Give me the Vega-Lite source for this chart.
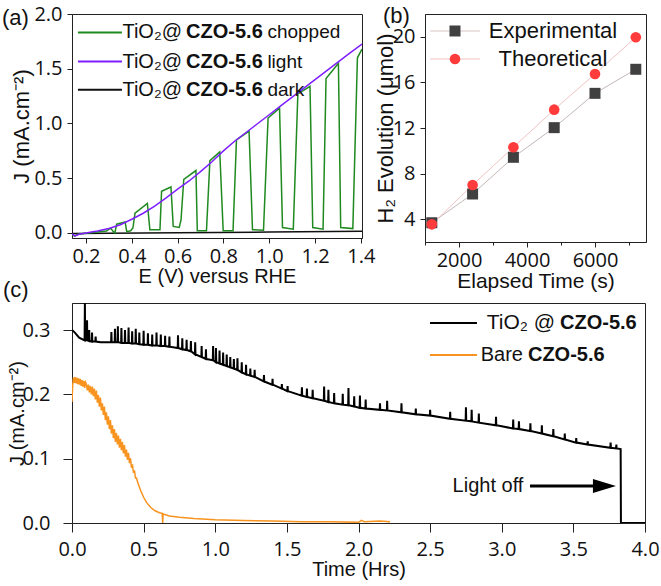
{
  "$schema": "https://vega.github.io/schema/vega-lite/v6.json",
  "autosize": {"type": "none"},
  "padding": {"left": 72, "top": 14, "right": 589, "bottom": 572},
  "background": "white",
  "config": {
    "view": {"stroke": "#222", "strokeWidth": 1},
    "axis": {
      "domainColor": "#222", "tickColor": "#222", "tickWidth": 1,
      "labelFont": "Open Sans", "labelFontSize": 20, "labelColor": "#111",
      "titleFont": "Liberation Sans", "titleFontSize": 20, "titleFontWeight": "normal", "titleColor": "#111",
      "grid": false, "labelFlush": false, "labelOverlap": false
    },
    "text": {"font": "Liberation Sans", "color": "#111"},
    "title": {"font": "Liberation Sans", "fontSize": 22, "fontWeight": "normal", "color": "#111", "anchor": "start", "frame": "group", "offset": 0, "baseline": "alphabetic"}
  },
  "datasets": {
    "lsv_dark": [
      {"E": 0.139, "J": -0.006}, {"E": 0.3, "J": -0.002}, {"E": 0.6, "J": 0.002}, {"E": 1.0, "J": 0.008}, {"E": 1.405, "J": 0.015}
    ],
    "lsv_chopped": [
      {"E": 0.139, "J": -0.012}, {"E": 0.15, "J": -0.028}, {"E": 0.165, "J": -0.012}, {"E": 0.2, "J": -0.002},
      {"E": 0.25, "J": 0.008}, {"E": 0.29, "J": 0.018}, {"E": 0.3, "J": 0.035}, {"E": 0.31, "J": 0.04},
      {"E": 0.318, "J": 0.015}, {"E": 0.326, "J": 0.0}, {"E": 0.334, "J": 0.08}, {"E": 0.371, "J": 0.1},
      {"E": 0.378, "J": 0.012}, {"E": 0.395, "J": 0.02}, {"E": 0.405, "J": 0.045}, {"E": 0.414, "J": 0.18},
      {"E": 0.468, "J": 0.27}, {"E": 0.479, "J": 0.03}, {"E": 0.523, "J": 0.03}, {"E": 0.53, "J": 0.38},
      {"E": 0.571, "J": 0.42}, {"E": 0.581, "J": 0.06}, {"E": 0.607, "J": 0.05}, {"E": 0.615, "J": 0.12},
      {"E": 0.627, "J": 0.49}, {"E": 0.68, "J": 0.57}, {"E": 0.686, "J": 0.02}, {"E": 0.726, "J": 0.02},
      {"E": 0.741, "J": 0.66}, {"E": 0.784, "J": 0.74}, {"E": 0.799, "J": 0.02}, {"E": 0.842, "J": 0.02},
      {"E": 0.857, "J": 0.85}, {"E": 0.912, "J": 0.93}, {"E": 0.927, "J": 0.03}, {"E": 0.975, "J": 0.025},
      {"E": 0.995, "J": 1.05}, {"E": 1.045, "J": 1.14}, {"E": 1.058, "J": 0.05}, {"E": 1.105, "J": 0.035},
      {"E": 1.125, "J": 1.27}, {"E": 1.178, "J": 1.34}, {"E": 1.19, "J": 0.05}, {"E": 1.235, "J": 0.035},
      {"E": 1.248, "J": 1.41}, {"E": 1.302, "J": 1.55}, {"E": 1.312, "J": 0.05}, {"E": 1.365, "J": 0.04},
      {"E": 1.385, "J": 1.6}, {"E": 1.405, "J": 1.68}
    ],
    "lsv_light": [
      {"E": 0.139, "J": -0.008}, {"E": 0.152, "J": -0.027}, {"E": 0.17, "J": -0.012}, {"E": 0.2, "J": 0.0},
      {"E": 0.25, "J": 0.018}, {"E": 0.3, "J": 0.04}, {"E": 0.35, "J": 0.075}, {"E": 0.4, "J": 0.125},
      {"E": 0.45, "J": 0.18}, {"E": 0.5, "J": 0.245}, {"E": 0.55, "J": 0.32}, {"E": 0.6, "J": 0.4},
      {"E": 0.65, "J": 0.475}, {"E": 0.7, "J": 0.56}, {"E": 0.75, "J": 0.65}, {"E": 0.8, "J": 0.75},
      {"E": 0.85, "J": 0.84}, {"E": 0.9, "J": 0.92}, {"E": 0.95, "J": 1.0}, {"E": 1.0, "J": 1.08},
      {"E": 1.05, "J": 1.16}, {"E": 1.1, "J": 1.24}, {"E": 1.15, "J": 1.32}, {"E": 1.2, "J": 1.4},
      {"E": 1.25, "J": 1.48}, {"E": 1.3, "J": 1.56}, {"E": 1.35, "J": 1.64}, {"E": 1.405, "J": 1.725}
    ],
    "h2_experimental": [
      {"time": 1200, "H2": 3.69}, {"time": 2400, "H2": 6.21}, {"time": 3600, "H2": 9.43},
      {"time": 4800, "H2": 12.03}, {"time": 6000, "H2": 15.04}, {"time": 7200, "H2": 17.15}
    ],
    "h2_theoretical": [
      {"time": 1200, "H2": 3.55}, {"time": 2400, "H2": 7.0}, {"time": 3600, "H2": 10.31},
      {"time": 4800, "H2": 13.61}, {"time": 6000, "H2": 16.74}, {"time": 7200, "H2": 19.96}
    ],
    "stab_bare": [
      {"t": 0.0, "J": 0.188}, {"t": 0.005, "J": 0.215}, {"t": 0.01, "J": 0.226}, {"t": 0.016, "J": 0.218},
      {"t": 0.022, "J": 0.227}, {"t": 0.028, "J": 0.217}, {"t": 0.034, "J": 0.226}, {"t": 0.04, "J": 0.216},
      {"t": 0.046, "J": 0.225}, {"t": 0.052, "J": 0.215}, {"t": 0.058, "J": 0.224}, {"t": 0.064, "J": 0.213},
      {"t": 0.07, "J": 0.222}, {"t": 0.076, "J": 0.212}, {"t": 0.082, "J": 0.221}, {"t": 0.088, "J": 0.21},
      {"t": 0.094, "J": 0.219}, {"t": 0.1, "J": 0.216}, {"t": 0.107, "J": 0.206}, {"t": 0.114, "J": 0.215},
      {"t": 0.121, "J": 0.203}, {"t": 0.128, "J": 0.213}, {"t": 0.135, "J": 0.2}, {"t": 0.142, "J": 0.212},
      {"t": 0.149, "J": 0.197}, {"t": 0.156, "J": 0.209}, {"t": 0.163, "J": 0.192}, {"t": 0.17, "J": 0.206},
      {"t": 0.177, "J": 0.187}, {"t": 0.184, "J": 0.199}, {"t": 0.191, "J": 0.181}, {"t": 0.198, "J": 0.195},
      {"t": 0.205, "J": 0.175}, {"t": 0.212, "J": 0.186}, {"t": 0.219, "J": 0.168}, {"t": 0.226, "J": 0.181},
      {"t": 0.233, "J": 0.16}, {"t": 0.24, "J": 0.172}, {"t": 0.247, "J": 0.153}, {"t": 0.254, "J": 0.166},
      {"t": 0.261, "J": 0.146}, {"t": 0.268, "J": 0.16}, {"t": 0.275, "J": 0.139}, {"t": 0.282, "J": 0.152},
      {"t": 0.289, "J": 0.132}, {"t": 0.296, "J": 0.146}, {"t": 0.303, "J": 0.126}, {"t": 0.31, "J": 0.14},
      {"t": 0.317, "J": 0.122}, {"t": 0.324, "J": 0.136}, {"t": 0.331, "J": 0.117}, {"t": 0.338, "J": 0.131},
      {"t": 0.345, "J": 0.113}, {"t": 0.352, "J": 0.126}, {"t": 0.359, "J": 0.108}, {"t": 0.366, "J": 0.121},
      {"t": 0.373, "J": 0.103}, {"t": 0.38, "J": 0.114}, {"t": 0.387, "J": 0.098}, {"t": 0.394, "J": 0.109},
      {"t": 0.401, "J": 0.093}, {"t": 0.408, "J": 0.101}, {"t": 0.415, "J": 0.086}, {"t": 0.422, "J": 0.091},
      {"t": 0.429, "J": 0.078}, {"t": 0.436, "J": 0.082}, {"t": 0.443, "J": 0.07}, {"t": 0.45, "J": 0.07},
      {"t": 0.46, "J": 0.062}, {"t": 0.48, "J": 0.05}, {"t": 0.5, "J": 0.04}, {"t": 0.52, "J": 0.032},
      {"t": 0.55, "J": 0.024}, {"t": 0.58, "J": 0.019}, {"t": 0.61, "J": 0.016}, {"t": 0.63, "J": 0.015},
      {"t": 0.633, "J": 0.0}, {"t": 0.636, "J": 0.014}, {"t": 0.68, "J": 0.011}, {"t": 0.75, "J": 0.009},
      {"t": 0.85, "J": 0.007}, {"t": 1.0, "J": 0.005}, {"t": 1.2, "J": 0.004}, {"t": 1.4, "J": 0.003},
      {"t": 1.6, "J": 0.002}, {"t": 1.8, "J": 0.002}, {"t": 2.0, "J": 0.001}, {"t": 2.02, "J": 0.004},
      {"t": 2.04, "J": 0.002}, {"t": 2.15, "J": 0.003}, {"t": 2.22, "J": 0.002}
    ],
    "stab_tio2": [
      {"t": 0.0, "J": 0.3}, {"t": 0.02, "J": 0.296}, {"t": 0.05, "J": 0.288},
      {"t": 0.088, "J": 0.284}, {"t": 0.09, "J": 0.342}, {"t": 0.092, "J": 0.284},
      {"t": 0.103, "J": 0.284}, {"t": 0.105, "J": 0.315}, {"t": 0.107, "J": 0.284},
      {"t": 0.118, "J": 0.283}, {"t": 0.12, "J": 0.3}, {"t": 0.122, "J": 0.283},
      {"t": 0.138, "J": 0.282}, {"t": 0.14, "J": 0.296}, {"t": 0.142, "J": 0.282},
      {"t": 0.163, "J": 0.282}, {"t": 0.165, "J": 0.29}, {"t": 0.167, "J": 0.282},
      {"t": 0.2, "J": 0.281},
      {"t": 0.273, "J": 0.281}, {"t": 0.275, "J": 0.297}, {"t": 0.277, "J": 0.281},
      {"t": 0.298, "J": 0.281}, {"t": 0.3, "J": 0.302}, {"t": 0.302, "J": 0.281},
      {"t": 0.318, "J": 0.281}, {"t": 0.32, "J": 0.306}, {"t": 0.322, "J": 0.281},
      {"t": 0.343, "J": 0.28}, {"t": 0.345, "J": 0.303}, {"t": 0.347, "J": 0.28},
      {"t": 0.368, "J": 0.28}, {"t": 0.37, "J": 0.3}, {"t": 0.372, "J": 0.28},
      {"t": 0.393, "J": 0.28}, {"t": 0.395, "J": 0.304}, {"t": 0.397, "J": 0.28},
      {"t": 0.418, "J": 0.279}, {"t": 0.42, "J": 0.298}, {"t": 0.422, "J": 0.279},
      {"t": 0.443, "J": 0.279}, {"t": 0.445, "J": 0.302}, {"t": 0.447, "J": 0.279},
      {"t": 0.468, "J": 0.278}, {"t": 0.47, "J": 0.296}, {"t": 0.472, "J": 0.278},
      {"t": 0.498, "J": 0.277}, {"t": 0.5, "J": 0.299}, {"t": 0.502, "J": 0.277},
      {"t": 0.528, "J": 0.277}, {"t": 0.53, "J": 0.295}, {"t": 0.532, "J": 0.277},
      {"t": 0.558, "J": 0.276}, {"t": 0.56, "J": 0.293}, {"t": 0.562, "J": 0.276},
      {"t": 0.588, "J": 0.276}, {"t": 0.59, "J": 0.296}, {"t": 0.592, "J": 0.276},
      {"t": 0.618, "J": 0.275}, {"t": 0.62, "J": 0.293}, {"t": 0.622, "J": 0.275},
      {"t": 0.648, "J": 0.275}, {"t": 0.65, "J": 0.291}, {"t": 0.652, "J": 0.275},
      {"t": 0.678, "J": 0.274}, {"t": 0.68, "J": 0.29}, {"t": 0.682, "J": 0.274},
      {"t": 0.738, "J": 0.272}, {"t": 0.74, "J": 0.292}, {"t": 0.742, "J": 0.272},
      {"t": 0.768, "J": 0.27}, {"t": 0.77, "J": 0.287}, {"t": 0.772, "J": 0.27},
      {"t": 0.798, "J": 0.269}, {"t": 0.8, "J": 0.285}, {"t": 0.802, "J": 0.269},
      {"t": 0.828, "J": 0.267}, {"t": 0.83, "J": 0.283}, {"t": 0.832, "J": 0.267},
      {"t": 0.858, "J": 0.262}, {"t": 0.86, "J": 0.281}, {"t": 0.862, "J": 0.262},
      {"t": 0.903, "J": 0.258}, {"t": 0.905, "J": 0.275}, {"t": 0.907, "J": 0.258},
      {"t": 0.933, "J": 0.255}, {"t": 0.935, "J": 0.27}, {"t": 0.937, "J": 0.255},
      {"t": 0.983, "J": 0.253}, {"t": 0.985, "J": 0.275}, {"t": 0.987, "J": 0.253},
      {"t": 1.003, "J": 0.25}, {"t": 1.005, "J": 0.272}, {"t": 1.007, "J": 0.25},
      {"t": 1.028, "J": 0.248}, {"t": 1.03, "J": 0.268}, {"t": 1.032, "J": 0.248},
      {"t": 1.053, "J": 0.246}, {"t": 1.055, "J": 0.265}, {"t": 1.057, "J": 0.246},
      {"t": 1.078, "J": 0.244}, {"t": 1.08, "J": 0.262}, {"t": 1.082, "J": 0.244},
      {"t": 1.103, "J": 0.242}, {"t": 1.105, "J": 0.258}, {"t": 1.107, "J": 0.242},
      {"t": 1.128, "J": 0.24}, {"t": 1.13, "J": 0.255}, {"t": 1.132, "J": 0.24},
      {"t": 1.153, "J": 0.238}, {"t": 1.155, "J": 0.256}, {"t": 1.157, "J": 0.238},
      {"t": 1.183, "J": 0.234}, {"t": 1.185, "J": 0.25}, {"t": 1.187, "J": 0.234},
      {"t": 1.213, "J": 0.231}, {"t": 1.215, "J": 0.246}, {"t": 1.217, "J": 0.231},
      {"t": 1.243, "J": 0.229}, {"t": 1.245, "J": 0.24}, {"t": 1.247, "J": 0.229},
      {"t": 1.273, "J": 0.227}, {"t": 1.275, "J": 0.238}, {"t": 1.277, "J": 0.227},
      {"t": 1.338, "J": 0.22}, {"t": 1.34, "J": 0.23}, {"t": 1.342, "J": 0.22},
      {"t": 1.398, "J": 0.215}, {"t": 1.4, "J": 0.224}, {"t": 1.402, "J": 0.215},
      {"t": 1.463, "J": 0.209}, {"t": 1.465, "J": 0.216}, {"t": 1.467, "J": 0.209},
      {"t": 1.503, "J": 0.205}, {"t": 1.505, "J": 0.213}, {"t": 1.507, "J": 0.205},
      {"t": 1.603, "J": 0.198}, {"t": 1.605, "J": 0.211}, {"t": 1.607, "J": 0.198},
      {"t": 1.638, "J": 0.196}, {"t": 1.64, "J": 0.209}, {"t": 1.642, "J": 0.196},
      {"t": 1.678, "J": 0.194}, {"t": 1.68, "J": 0.207}, {"t": 1.682, "J": 0.194},
      {"t": 1.758, "J": 0.19}, {"t": 1.76, "J": 0.212}, {"t": 1.762, "J": 0.19},
      {"t": 1.788, "J": 0.188}, {"t": 1.79, "J": 0.207}, {"t": 1.792, "J": 0.188},
      {"t": 1.828, "J": 0.186}, {"t": 1.83, "J": 0.202}, {"t": 1.832, "J": 0.186},
      {"t": 1.888, "J": 0.184}, {"t": 1.89, "J": 0.201}, {"t": 1.892, "J": 0.184},
      {"t": 1.928, "J": 0.183}, {"t": 1.93, "J": 0.21}, {"t": 1.932, "J": 0.183},
      {"t": 1.968, "J": 0.181}, {"t": 1.97, "J": 0.197}, {"t": 1.972, "J": 0.181},
      {"t": 2.008, "J": 0.179}, {"t": 2.01, "J": 0.198}, {"t": 2.012, "J": 0.179},
      {"t": 2.048, "J": 0.178}, {"t": 2.05, "J": 0.192}, {"t": 2.052, "J": 0.178},
      {"t": 2.148, "J": 0.176}, {"t": 2.15, "J": 0.186}, {"t": 2.152, "J": 0.176},
      {"t": 2.198, "J": 0.175}, {"t": 2.2, "J": 0.19}, {"t": 2.202, "J": 0.175},
      {"t": 2.298, "J": 0.172}, {"t": 2.3, "J": 0.186}, {"t": 2.302, "J": 0.172},
      {"t": 2.398, "J": 0.169}, {"t": 2.4, "J": 0.178}, {"t": 2.402, "J": 0.169},
      {"t": 2.498, "J": 0.167}, {"t": 2.5, "J": 0.176}, {"t": 2.502, "J": 0.167},
      {"t": 2.638, "J": 0.162}, {"t": 2.64, "J": 0.173}, {"t": 2.642, "J": 0.162},
      {"t": 2.748, "J": 0.159}, {"t": 2.75, "J": 0.18}, {"t": 2.752, "J": 0.159},
      {"t": 2.788, "J": 0.158}, {"t": 2.79, "J": 0.176}, {"t": 2.792, "J": 0.158},
      {"t": 2.838, "J": 0.156}, {"t": 2.84, "J": 0.17}, {"t": 2.842, "J": 0.156},
      {"t": 2.958, "J": 0.152}, {"t": 2.96, "J": 0.165}, {"t": 2.962, "J": 0.152},
      {"t": 3.078, "J": 0.147}, {"t": 3.08, "J": 0.161}, {"t": 3.082, "J": 0.147},
      {"t": 3.118, "J": 0.146}, {"t": 3.12, "J": 0.158}, {"t": 3.122, "J": 0.146},
      {"t": 3.198, "J": 0.143}, {"t": 3.2, "J": 0.155}, {"t": 3.202, "J": 0.143},
      {"t": 3.278, "J": 0.139}, {"t": 3.28, "J": 0.152}, {"t": 3.282, "J": 0.139},
      {"t": 3.358, "J": 0.135}, {"t": 3.36, "J": 0.146}, {"t": 3.362, "J": 0.135},
      {"t": 3.438, "J": 0.13}, {"t": 3.44, "J": 0.139}, {"t": 3.442, "J": 0.13},
      {"t": 3.518, "J": 0.125}, {"t": 3.52, "J": 0.132}, {"t": 3.522, "J": 0.125},
      {"t": 3.598, "J": 0.122}, {"t": 3.6, "J": 0.127}, {"t": 3.602, "J": 0.122},
      {"t": 3.758, "J": 0.117}, {"t": 3.76, "J": 0.125}, {"t": 3.762, "J": 0.117},
      {"t": 3.798, "J": 0.116}, {"t": 3.8, "J": 0.122}, {"t": 3.802, "J": 0.116},
      {"t": 3.83, "J": 0.115}, {"t": 3.832, "J": 0.0}, {"t": 4.0, "J": 0.0}
    ]
  },
  "vconcat": [
    {
      "hconcat": [
        {
          "width": 290,
          "height": 224,
          "title": {"text": "(a)", "dx": -70, "dy": 30},
          "layer": [
            {
              "data": {"name": "lsv_dark"},
              "mark": {"type": "line", "color": "#111", "strokeWidth": 1.5, "clip": true},
              "encoding": {
                "x": {"field": "E", "type": "quantitative", "scale": {"domain": [0.139, 1.405], "nice": false, "zero": false},
                  "axis": {"title": "E (V) versus RHE", "values": [0.2, 0.3, 0.4, 0.5, 0.6, 0.7, 0.8, 0.9, 1.0, 1.1, 1.2, 1.3, 1.4],
                    "labelExpr": "abs(datum.value*5 - round(datum.value*5)) < 0.001 ? format(datum.value, '.1f') : ''",
                    "tickSize": {"condition": {"test": "abs(datum.value*5 - round(datum.value*5)) < 0.001", "value": 5}, "value": 3},
                    "labelPadding": 3, "titlePadding": 0}},
                "y": {"field": "J", "type": "quantitative", "scale": {"domain": [-0.046, 2.0], "nice": false, "zero": false},
                  "axis": {"title": "J (mA.cm⁻²)", "titleFontSize": 22, "values": [0, 0.25, 0.5, 0.75, 1.0, 1.25, 1.5, 1.75, 2.0],
                    "labelExpr": "abs(datum.value*2 - round(datum.value*2)) < 0.001 ? format(datum.value, '.1f') : ''",
                    "tickSize": {"condition": {"test": "abs(datum.value*2 - round(datum.value*2)) < 0.001", "value": 5}, "value": 3},
                    "labelPadding": 5, "titlePadding": 0}}
              }
            },
            {
              "data": {"name": "lsv_chopped"},
              "mark": {"type": "line", "color": "#1f8a1f", "strokeWidth": 1.5, "clip": true},
              "encoding": {"x": {"field": "E", "type": "quantitative"}, "y": {"field": "J", "type": "quantitative"}}
            },
            {
              "data": {"name": "lsv_light"},
              "mark": {"type": "line", "color": "#7f1fff", "strokeWidth": 1.5, "clip": true},
              "encoding": {"x": {"field": "E", "type": "quantitative"}, "y": {"field": "J", "type": "quantitative"}}
            },
            {"data": {"values": [{"series": "chopped"}]}, "mark": {"type": "rule", "color": "#1f8a1f", "strokeWidth": 2},
              "encoding": {"x": {"datum": 0.165}, "x2": {"datum": 0.357}, "y": {"datum": 1.832}}},
            {"data": {"values": [{"series": "light"}]}, "mark": {"type": "rule", "color": "#7f1fff", "strokeWidth": 2},
              "encoding": {"x": {"datum": 0.165}, "x2": {"datum": 0.357}, "y": {"datum": 1.566}}},
            {"data": {"values": [{"series": "dark"}]}, "mark": {"type": "rule", "color": "#111", "strokeWidth": 2},
              "encoding": {"x": {"datum": 0.165}, "x2": {"datum": 0.357}, "y": {"datum": 1.309}}},
            {"data": {"values": [{"label": "TiO₂@"}]}, "mark": {"type": "text", "align": "right", "baseline": "middle", "fontSize": 20},
              "encoding": {"x": {"datum": 0.619}, "y": {"datum": 1.832}, "text": {"field": "label"}}},
            {"data": {"values": [{"label": "TiO₂@"}]}, "mark": {"type": "text", "align": "right", "baseline": "middle", "fontSize": 20},
              "encoding": {"x": {"datum": 0.619}, "y": {"datum": 1.566}, "text": {"field": "label"}}},
            {"data": {"values": [{"label": "TiO₂@"}]}, "mark": {"type": "text", "align": "right", "baseline": "middle", "fontSize": 20},
              "encoding": {"x": {"datum": 0.619}, "y": {"datum": 1.309}, "text": {"field": "label"}}},
            {"data": {"values": [{"label": "CZO-5.6"}]}, "mark": {"type": "text", "align": "left", "baseline": "middle", "fontSize": 20, "fontWeight": "bold"},
              "encoding": {"x": {"datum": 0.637}, "y": {"datum": 1.832}, "text": {"field": "label"}}},
            {"data": {"values": [{"label": "CZO-5.6"}]}, "mark": {"type": "text", "align": "left", "baseline": "middle", "fontSize": 20, "fontWeight": "bold"},
              "encoding": {"x": {"datum": 0.637}, "y": {"datum": 1.566}, "text": {"field": "label"}}},
            {"data": {"values": [{"label": "CZO-5.6"}]}, "mark": {"type": "text", "align": "left", "baseline": "middle", "fontSize": 20, "fontWeight": "bold"},
              "encoding": {"x": {"datum": 0.637}, "y": {"datum": 1.309}, "text": {"field": "label"}}},
            {"data": {"values": [{"label": "chopped"}]}, "mark": {"type": "text", "align": "left", "baseline": "middle", "fontSize": 19},
              "encoding": {"x": {"datum": 0.992}, "y": {"datum": 1.832}, "text": {"field": "label"}}},
            {"data": {"values": [{"label": "light"}]}, "mark": {"type": "text", "align": "left", "baseline": "middle", "fontSize": 19},
              "encoding": {"x": {"datum": 0.992}, "y": {"datum": 1.566}, "text": {"field": "label"}}},
            {"data": {"values": [{"label": "dark"}]}, "mark": {"type": "text", "align": "left", "baseline": "middle", "fontSize": 19},
              "encoding": {"x": {"datum": 0.992}, "y": {"datum": 1.309}, "text": {"field": "label"}}}
          ]
        },
        {
          "width": 221,
          "height": 228,
          "title": {"text": "(b)", "dx": -42, "dy": 18},
          "resolve": {"axis": {"x": "independent"}},
          "layer": [
            {
              "layer": [
                {
                  "data": {"name": "h2_experimental"},
                  "mark": {"type": "line", "color": "#c4b8b8", "strokeWidth": 1},
                  "encoding": {
                    "x": {"field": "time", "type": "quantitative", "scale": {"domain": [1000, 7500], "nice": false, "zero": false},
                      "axis": {"orient": "bottom", "title": "Elapsed Time (s)", "titleFontSize": 21, "values": [2000, 4000, 6000],
                        "format": "d", "tickSize": 5, "labelOverlap": false, "labelBound": false,
                        "labelPadding": 3, "titlePadding": 0}},
                    "y": {"field": "H2", "type": "quantitative", "scale": {"domain": [2, 22], "nice": false, "zero": false},
                      "axis": {"title": "H₂ Evolution (μmol)", "titleFontSize": 22, "values": [4, 6, 8, 10, 12, 14, 16, 18, 20],
                        "labelExpr": "datum.value % 4 === 0 ? format(datum.value, 'd') : ''",
                        "tickSize": {"condition": {"test": "datum.value % 4 === 0", "value": 5}, "value": 3},
                        "labelPadding": 5, "titlePadding": -5}}
                  }
                },
                {
                  "data": {"name": "h2_theoretical"},
                  "mark": {"type": "line", "color": "#f2c4c4", "strokeWidth": 1},
                  "encoding": {"x": {"field": "time", "type": "quantitative"}, "y": {"field": "H2", "type": "quantitative"}}
                },
                {
                  "data": {"name": "h2_experimental"},
                  "mark": {"type": "point", "shape": "square", "filled": true, "color": "#404040", "size": 121, "opacity": 1},
                  "encoding": {"x": {"field": "time", "type": "quantitative"}, "y": {"field": "H2", "type": "quantitative"}}
                },
                {
                  "data": {"name": "h2_theoretical"},
                  "mark": {"type": "point", "shape": "circle", "filled": true, "color": "#ff3b3b", "size": 113, "opacity": 1},
                  "encoding": {"x": {"field": "time", "type": "quantitative"}, "y": {"field": "H2", "type": "quantitative"}}
                },
                {"data": {"values": [{"series": "Experimental"}]}, "mark": {"type": "rule", "color": "#d8c4c4", "strokeWidth": 1},
                  "encoding": {"x": {"datum": 1147}, "x2": {"datum": 2618}, "y": {"datum": 20.51}}},
                {"data": {"values": [{"series": "Theoretical"}]}, "mark": {"type": "rule", "color": "#f2c4c4", "strokeWidth": 1},
                  "encoding": {"x": {"datum": 1147}, "x2": {"datum": 2618}, "y": {"datum": 18.05}}},
                {"data": {"values": [{"series": "Experimental"}]}, "mark": {"type": "point", "shape": "square", "filled": true, "color": "#404040", "size": 121, "opacity": 1},
                  "encoding": {"x": {"datum": 1882}, "y": {"datum": 20.51}}},
                {"data": {"values": [{"series": "Theoretical"}]}, "mark": {"type": "point", "shape": "circle", "filled": true, "color": "#ff3b3b", "size": 113, "opacity": 1},
                  "encoding": {"x": {"datum": 1882}, "y": {"datum": 18.05}}},
                {"data": {"values": [{"series": "Experimental"}]}, "mark": {"type": "text", "align": "center", "baseline": "middle", "fontSize": 22},
                  "encoding": {"x": {"datum": 4765}, "y": {"datum": 20.51}, "text": {"field": "series"}}},
                {"data": {"values": [{"series": "Theoretical"}]}, "mark": {"type": "text", "align": "center", "baseline": "middle", "fontSize": 22},
                  "encoding": {"x": {"datum": 4765}, "y": {"datum": 18.05}, "text": {"field": "series"}}}
              ]
            },
            {
              "data": {"name": "h2_experimental"},
              "mark": {"type": "point", "opacity": 0},
              "encoding": {
                "x": {"field": "time", "type": "quantitative",
                  "axis": {"orient": "bottom", "values": [1000, 3000, 5000, 7000], "labels": false, "tickSize": 3, "title": null, "domain": false}},
                "y": {"field": "H2", "type": "quantitative"}
              }
            }
          ]
        }
      ],
      "bounds": "flush",
      "spacing": 63
    },
    {
      "width": 573,
      "height": 220,
      "title": {"text": "(c)", "dx": -69, "dy": 3},
      "layer": [
        {
          "data": {"name": "stab_bare"},
          "mark": {"type": "line", "color": "#f7931e", "strokeWidth": 1.5, "clip": true},
          "encoding": {
            "x": {"field": "t", "type": "quantitative", "scale": {"domain": [0, 4], "nice": false, "zero": false},
              "axis": {"title": "Time (Hrs)", "values": [0, 0.25, 0.5, 0.75, 1.0, 1.25, 1.5, 1.75, 2.0, 2.25, 2.5, 2.75, 3.0, 3.25, 3.5, 3.75, 4.0],
                "labelExpr": "abs(datum.value*2 - round(datum.value*2)) < 0.001 ? format(datum.value, '.1f') : ''",
                "tickSize": {"condition": {"test": "abs(datum.value*2 - round(datum.value*2)) < 0.001", "value": 9}, "value": 4},
                "labelPadding": 7, "titlePadding": 0}},
            "y": {"field": "J", "type": "quantitative", "scale": {"domain": [0, 0.342], "nice": false, "zero": false},
              "axis": {"title": "J (mA.cm⁻²)", "values": [0, 0.05, 0.1, 0.15, 0.2, 0.25, 0.3],
                "labelExpr": "abs(datum.value*10 - round(datum.value*10)) < 0.001 ? format(datum.value, '.1f') : ''",
                "tickSize": {"condition": {"test": "abs(datum.value*10 - round(datum.value*10)) < 0.001", "value": 9}, "value": 4},
                "labelPadding": 13, "titlePadding": -6}}
          }
        },
        {
          "data": {"name": "stab_tio2"},
          "mark": {"type": "line", "color": "#000", "strokeWidth": 2, "clip": true},
          "encoding": {"x": {"field": "t", "type": "quantitative"}, "y": {"field": "J", "type": "quantitative"}}
        },
        {"data": {"values": [{"series": "TiO2"}]}, "mark": {"type": "rule", "color": "#000", "strokeWidth": 2},
          "encoding": {"x": {"datum": 2.499}, "x2": {"datum": 2.827}, "y": {"datum": 0.311}}},
        {"data": {"values": [{"series": "Bare"}]}, "mark": {"type": "rule", "color": "#f7931e", "strokeWidth": 2},
          "encoding": {"x": {"datum": 2.499}, "x2": {"datum": 2.827}, "y": {"datum": 0.261}}},
        {"data": {"values": [{"label": "TiO₂ @"}]}, "mark": {"type": "text", "align": "right", "baseline": "middle", "fontSize": 21},
          "encoding": {"x": {"datum": 3.372}, "y": {"datum": 0.311}, "text": {"field": "label"}}},
        {"data": {"values": [{"label": "Bare"}]}, "mark": {"type": "text", "align": "right", "baseline": "middle", "fontSize": 20},
          "encoding": {"x": {"datum": 3.148}, "y": {"datum": 0.261}, "text": {"field": "label"}}},
        {"data": {"values": [{"label": "CZO-5.6"}]}, "mark": {"type": "text", "align": "left", "baseline": "middle", "fontSize": 20, "fontWeight": "bold"},
          "encoding": {"x": {"datum": 3.407}, "y": {"datum": 0.311}, "text": {"field": "label"}}},
        {"data": {"values": [{"label": "CZO-5.6"}]}, "mark": {"type": "text", "align": "left", "baseline": "middle", "fontSize": 20, "fontWeight": "bold"},
          "encoding": {"x": {"datum": 3.183}, "y": {"datum": 0.261}, "text": {"field": "label"}}},
        {"data": {"values": [{"label": "Light off"}]}, "mark": {"type": "text", "align": "center", "baseline": "middle", "fontSize": 20},
          "encoding": {"x": {"datum": 2.904}, "y": {"datum": 0.0575}, "text": {"field": "label"}}},
        {"data": {"values": [{"label": "arrow"}]}, "mark": {"type": "rule", "color": "#000", "strokeWidth": 3},
          "encoding": {"x": {"datum": 3.197}, "x2": {"datum": 3.651}, "y": {"datum": 0.0575}}},
        {"data": {"values": [{"label": "arrowhead"}]}, "mark": {"type": "point", "shape": "M-1,-0.6L1,0L-1,0.6Z", "filled": true, "color": "#000", "size": 529, "opacity": 1},
          "encoding": {"x": {"datum": 3.717}, "y": {"datum": 0.0575}}}
      ]
    }
  ],
  "bounds": "flush",
  "spacing": 289
}
